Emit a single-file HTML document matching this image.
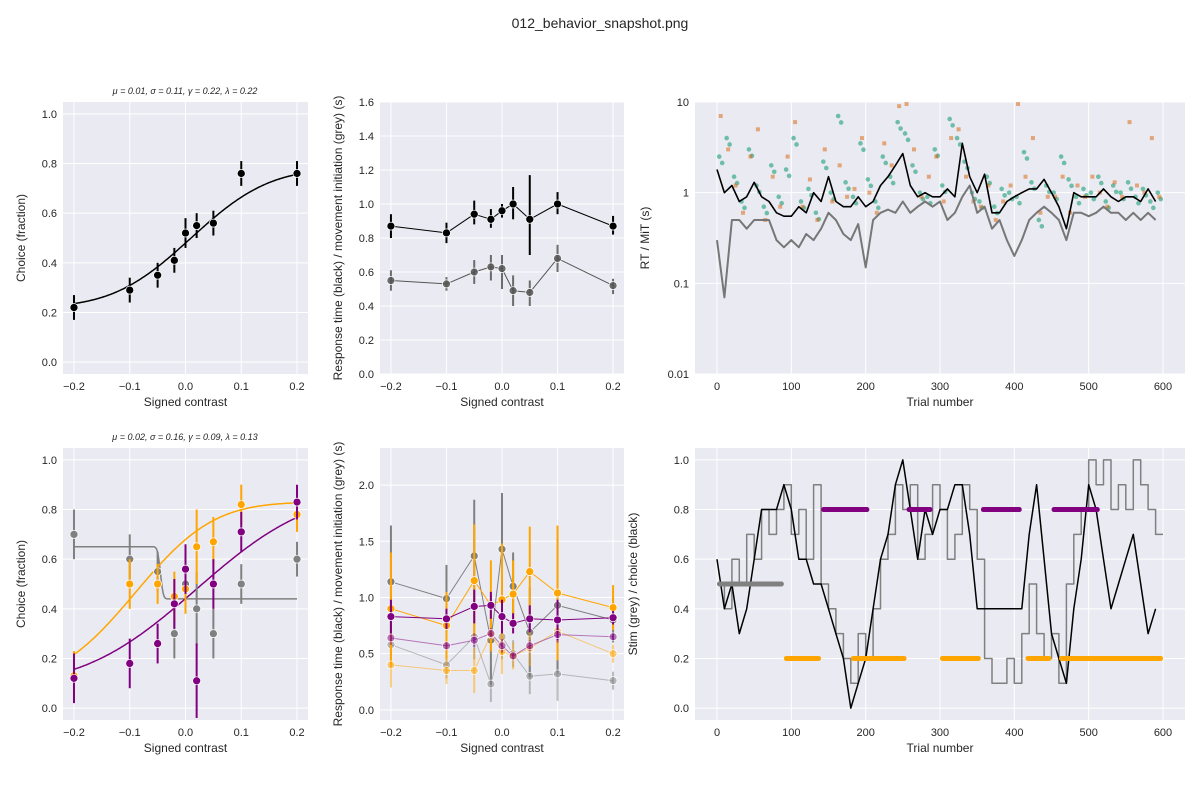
<!DOCTYPE html>
<html><head><meta charset="utf-8">
<style>
body{margin:0;background:#fff;font-family:"Liberation Sans","DejaVu Sans",sans-serif;}
svg text{font-family:"Liberation Sans","DejaVu Sans",sans-serif;fill:#262626;}
</style></head>
<body>
<svg id="fig" width="1200" height="800" xmlns="http://www.w3.org/2000/svg">
<text x="600" y="28" font-size="14" text-anchor="middle">012_behavior_snapshot.png</text>
</svg>
<script>
const contrasts=[-0.2,-0.1,-0.05,-0.02,0,0.02,0.05,0.1,0.2];
const p1Choice=[0.22,0.29,0.35,0.41,0.52,0.55,0.56,0.76,0.76];
const p1Err=[0.05,0.05,0.05,0.05,0.06,0.05,0.05,0.05,0.05];
const p2RT=[0.87,0.83,0.94,0.91,0.96,1.0,0.91,1.0,0.87];
const p2RTlo=[0.80,0.77,0.88,0.86,0.92,0.91,0.70,0.94,0.82];
const p2RThi=[0.94,0.89,1.02,0.97,1.0,1.10,1.17,1.07,0.93];
const p2MT=[0.55,0.53,0.60,0.63,0.62,0.49,0.48,0.68,0.52];
const p2MTlo=[0.49,0.49,0.53,0.55,0.50,0.40,0.40,0.60,0.47];
const p2MThi=[0.61,0.57,0.67,0.70,0.70,0.58,0.55,0.76,0.56];
const p4Grey=[0.70,0.60,0.55,0.30,0.50,0.40,0.30,0.50,0.60];
const p4Orange=[0.13,0.50,0.50,0.45,0.48,0.65,0.67,0.82,0.78];
const p4Purple=[0.12,0.18,0.26,0.42,0.56,0.11,0.50,0.71,0.83];
const p5GreyRT=[1.14,0.99,1.37,0.62,1.43,1.10,0.69,0.93,0.80];
const p5GreyMT=[0.58,0.40,0.65,0.23,0.65,0.50,0.30,0.32,0.26];
const p5OrangeRT=[0.90,0.75,1.15,0.93,0.98,1.03,1.23,1.04,0.91];
const p5OrangeMT=[0.40,0.35,0.35,0.67,0.52,0.48,0.55,0.70,0.50];
const p5PurpleRT=[0.83,0.81,0.92,0.93,0.83,0.77,0.81,0.80,0.82];
const p5PurpleMT=[0.64,0.57,0.62,0.68,0.57,0.48,0.57,0.67,0.65];
const trials10=[0,10,20,30,40,50,60,70,80,90,100,110,120,130,140,150,160,170,180,190,200,210,220,230,240,250,260,270,280,290,300,310,320,330,340,350,360,370,380,390,400,410,420,430,440,450,460,470,480,490,500,510,520,530,540,550,560,570,580,590];
const rtLine=[1.8,1.0,1.2,0.8,0.9,1.3,0.9,0.8,0.6,0.55,0.55,0.7,0.6,1.0,0.8,1.5,0.8,0.7,0.7,0.9,0.7,0.8,1.2,1.5,2.0,2.7,1.2,0.9,1.0,0.9,0.9,1.1,0.9,3.5,1.5,1.0,1.6,0.6,0.6,0.8,0.9,1.0,1.1,1.1,1.4,1.0,0.7,0.4,1.0,0.9,0.9,0.9,1.1,0.9,0.8,0.9,0.9,0.8,1.1,0.8];
const mtLine=[0.3,0.07,0.5,0.5,0.4,0.5,0.5,0.5,0.3,0.25,0.3,0.25,0.35,0.3,0.4,0.6,0.5,0.35,0.3,0.45,0.15,0.5,0.6,0.65,0.6,0.8,0.6,0.7,0.8,0.7,0.8,0.5,0.6,0.9,1.2,0.6,0.7,0.4,0.5,0.3,0.2,0.3,0.5,0.6,0.7,0.6,0.5,0.3,0.6,0.6,0.55,0.6,0.7,0.6,0.6,0.5,0.6,0.5,0.6,0.5];
const greenRT=[2.5,4.0,1.5,0.8,3.0,1.2,0.7,2.0,0.9,1.8,4.0,0.8,1.1,0.6,2.2,1.0,7.0,1.3,0.9,3.5,1.4,0.8,2.5,1.5,6.0,4.5,2.0,1.0,0.9,3.0,1.2,6.5,4.0,2.2,1.0,0.8,1.5,0.7,1.1,1.0,0.9,2.8,1.3,0.5,1.2,1.0,2.5,1.4,0.9,1.1,1.0,1.5,0.8,1.2,1.0,1.3,0.9,1.1,0.8,1.0];
const orangeRT=[7.0,3.0,1.2,0.6,2.5,5.0,0.5,1.5,0.7,2.5,6.0,0.7,1.4,0.5,3.0,0.8,2.0,0.9,1.1,4.0,1.0,0.6,3.5,2.0,9.0,9.5,3.0,0.9,1.5,2.5,0.8,4.0,5.0,1.5,0.8,0.7,1.2,0.5,0.8,1.2,9.5,1.5,4.0,0.6,0.9,0.9,1.5,0.6,1.2,0.9,1.5,1.0,0.7,1.3,0.9,6.0,1.2,1.0,4.0,0.9];
const stimGrey=[0.5,0.4,0.6,0.5,0.7,0.6,0.8,0.7,0.8,0.9,0.7,0.8,0.6,0.9,0.5,0.4,0.3,0.2,0.1,0.3,0.2,0.4,0.6,0.7,0.9,0.8,0.9,0.6,0.7,0.9,0.8,0.6,0.7,0.9,0.8,0.6,0.2,0.1,0.1,0.2,0.1,0.3,0.5,0.3,0.2,0.3,0.1,0.5,0.7,0.8,1.0,0.9,1.0,0.8,0.9,0.8,1.0,0.9,0.8,0.7];
const choiceBlack=[0.6,0.4,0.5,0.3,0.4,0.6,0.8,0.8,0.8,0.9,0.8,0.6,0.6,0.5,0.5,0.4,0.3,0.2,0.0,0.1,0.2,0.4,0.6,0.7,0.9,1.0,0.8,0.6,0.8,0.7,0.8,0.8,0.9,0.9,0.7,0.4,0.4,0.4,0.4,0.4,0.4,0.4,0.7,0.9,0.6,0.3,0.2,0.1,0.4,0.6,0.9,0.8,0.6,0.4,0.5,0.6,0.7,0.5,0.3,0.4];
const blocksStart=[0,90,140,180,255,300,355,415,450,460,515];
const blocksEnd=[90,140,205,255,290,355,410,450,515,600,600];
const blocksProb=[0.5,0.2,0.8,0.2,0.8,0.2,0.8,0.2,0.8,0.2,0.2];

const NS="http://www.w3.org/2000/svg";
const fig=document.getElementById('fig');
function el(tag,attrs,parent){const e=document.createElementNS(NS,tag);for(const k in attrs)e.setAttribute(k,attrs[k]);(parent||fig).appendChild(e);return e;}
function txt(s,attrs,parent){const e=el('text',attrs,parent);e.textContent=s;return e;}
function fmt(t){return (t<0?'\u2212':'')+Math.abs(t).toFixed(1);}

function panel(name,x0,y0,w,h,xmin,xmax,ymin,ymax,xt,yt,xlab,ylab,logy,ytl,xint,ylabOff){
  const g=el('g',{});
  
  
  el('rect',{x:x0,y:y0,width:w,height:h,fill:'#eaeaf2'},g);
  const X=v=>x0+(v-xmin)/(xmax-xmin)*w;
  const Y=logy?(v=>y0+h-(Math.log10(v)-Math.log10(ymin))/(Math.log10(ymax)-Math.log10(ymin))*h):(v=>y0+h-(v-ymin)/(ymax-ymin)*h);
  xt.forEach(t=>{el('line',{x1:X(t),x2:X(t),y1:y0,y2:y0+h,stroke:'#fff','stroke-width':1},g);
    const l=txt(xint?String(t):fmt(t),{x:X(t),y:y0+h+16,'font-size':11,'text-anchor':'middle'},g);
    });
  yt.forEach((t,i)=>{el('line',{x1:x0,x2:x0+w,y1:Y(t),y2:Y(t),stroke:'#fff','stroke-width':1},g);
    const l=txt(ytl?ytl[i]:fmt(t),{x:x0-6,y:Y(t)+4,'font-size':11,'text-anchor':'end'},g);
    });
  const xl=txt(xlab,{x:x0+w/2,y:y0+h+32,'font-size':12,'text-anchor':'middle'},g);
  
  const yl=txt(ylab,{x:0,y:0,'font-size':12,'text-anchor':'middle',transform:`translate(${x0-(ylabOff||38)},${y0+h/2}) rotate(-90)`},g);
  
  const clip='c'+name;
  const cp=el('clipPath',{id:clip},g);el('rect',{x:x0,y:y0,width:w,height:h},cp);
  const d=el('g',{'clip-path':`url(#${clip})`},g);
  return {X,Y,g:d,outer:g};
}
function poly(p,xs,ys,color,wd,op,name){const pts=xs.map((x,i)=>p.X(x).toFixed(1)+','+p.Y(ys[i]).toFixed(1)).join(' ');
  const e=el('polyline',{points:pts,fill:'none',stroke:color,'stroke-width':wd,'stroke-opacity':op||1,'stroke-linejoin':'round'},p.g);
  return e;}
function errpts(p,xs,ys,lo,hi,color,op,name){xs.forEach((x,i)=>{
  el('line',{x1:p.X(x),x2:p.X(x),y1:p.Y(lo[i]),y2:p.Y(hi[i]),stroke:color,'stroke-width':2,'stroke-opacity':op},p.g);
  const c=el('circle',{cx:p.X(x),cy:p.Y(ys[i]),r:4,fill:color,'fill-opacity':op,stroke:'#fff','stroke-width':0.7},p.g);
  });}
function erf(x){const t=1/(1+0.3275911*Math.abs(x));const y=1-(((((1.061405429*t-1.453152027)*t)+1.421413741)*t-0.284496736)*t+0.254829592)*t*Math.exp(-x*x);return x>=0?y:-y;}
function psy(x,mu,s,g,l){return g+(1-g-l)*0.5*(1+erf((x-mu)/(s*Math.SQRT2)));}
function curve(p,mu,s,g,l,color,name){const xs=[],ys=[];for(let x=-0.2;x<=0.2001;x+=0.002){xs.push(x);ys.push(psy(x,mu,s,g,l));}poly(p,xs,ys,color,1.5,1,name);}
const cx=[-0.2,-0.1,0,0.1,0.2];
const XM=0.2197;

// Panel 1
const p1=panel('psychometric-all',63,102,245,272,-XM,XM,-0.048,1.048,cx,[0,0.2,0.4,0.6,0.8,1.0],'Signed contrast','Choice (fraction)');
const t1=txt('μ = 0.01, σ = 0.11, γ = 0.22, λ = 0.22',{x:185,y:94,'font-size':9,'text-anchor':'middle','font-style':'italic'});

curve(p1,0.01,0.11,0.22,0.22,'#000','fit-curve');
errpts(p1,contrasts,p1Choice,p1Choice.map((v,i)=>v-p1Err[i]),p1Choice.map((v,i)=>v+p1Err[i]),'#000',1,'choice');

// Panel 2
const p2=panel('chronometric-all',380,102,244,272,-XM,XM,0,1.6,cx,[0,0.2,0.4,0.6,0.8,1.0,1.2,1.4,1.6],'Signed contrast','Response time (black) / movement initiation (grey) (s)');
poly(p2,contrasts,p2RT,'#000',1,1,'rt-line');poly(p2,contrasts,p2MT,'#555',1,1,'mt-line');
errpts(p2,contrasts,p2RT,p2RTlo,p2RThi,'#000',1,'rt');errpts(p2,contrasts,p2MT,p2MTlo,p2MThi,'#555',0.85,'mt');

// Panel 3
const p3=panel('rt-over-trials',695,102,490,272,-29.6,629.6,0.01,10,[0,100,200,300,400,500,600],[0.01,0.1,1,10],'Trial number','RT / MiT (s)',true,['0.01','0.1','1','10'],true,46);
greenRT.forEach((v,i)=>{const c=el('circle',{cx:p3.X(trials10[i]+3),cy:p3.Y(v),r:2.3,fill:'#1b9e77','fill-opacity':0.6},p3.g);
  const c2=el('circle',{cx:p3.X(trials10[i]+7),cy:p3.Y(v*0.85),r:2.3,fill:'#1b9e77','fill-opacity':0.6},p3.g);});
orangeRT.forEach((v,i)=>{const c=el('rect',{x:p3.X(trials10[i]+5)-2,y:p3.Y(v)-2,width:4,height:4,fill:'#d95f02','fill-opacity':0.5},p3.g);});
poly(p3,trials10,mtLine,'#777',2,1,'mt-rolling-line');
poly(p3,trials10,rtLine,'#000',1.6,1,'rt-rolling-line');

// Panel 4
const p4=panel('psychometric-blocks',63,448,245,272,-XM,XM,-0.048,1.048,cx,[0,0.2,0.4,0.6,0.8,1.0],'Signed contrast','Choice (fraction)');
const t4=txt('μ = 0.02, σ = 0.16, γ = 0.09, λ = 0.13',{x:185,y:440,'font-size':9,'text-anchor':'middle','font-style':'italic'});

curve(p4,-0.045,0.004,0.65,0.56,'grey','fit-curve-grey');
curve(p4,-0.09,0.11,0.1,0.17,'orange','fit-curve-orange');
curve(p4,0.02,0.16,0.09,0.13,'purple','fit-curve-purple');
const e4=[0.1,0.1,0.08,0.1,0.1,0.15,0.1,0.08,0.07];
[[p4Grey,'grey'],[p4Orange,'orange'],[p4Purple,'purple']].forEach(([a,c])=>errpts(p4,contrasts,a,a.map((v,i)=>v-e4[i]),a.map((v,i)=>v+e4[i]),c,1,'choice-'+c));

// Panel 5
const p5=panel('chronometric-blocks',380,448,244,272,-XM,XM,-0.09,2.33,cx,[0,0.5,1.0,1.5,2.0],'Signed contrast','Response time (black) / movement initiation (grey) (s)');
const e5=[0.5,0.3,0.5,0.4,0.5,0.3,0.4,0.6,0.2];
[[p5GreyRT,'grey',1],[p5GreyMT,'grey',0.5],[p5OrangeRT,'orange',1],[p5OrangeMT,'orange',0.5],[p5PurpleRT,'purple',1],[p5PurpleMT,'purple',0.5]].forEach(([a,c,o],k)=>{
  poly(p5,contrasts,a,c,1,o,'rt-line-'+c);
  const s=o<1?0.4:1;
  errpts(p5,contrasts,a,a.map((v,i)=>v-e5[i]*s*(c=='purple'?0.3:1)),a.map((v,i)=>v+e5[i]*s*(c=='purple'?0.3:1)),c,o,'rt-'+c);});

// Panel 6
const p6=panel('stim-choice-trials',695,448,490,272,-29.6,629.6,-0.048,1.048,[0,100,200,300,400,500,600],[0,0.2,0.4,0.6,0.8,1.0],'Trial number','Stim (grey) / choice (black)',false,null,true,58);
function stepPts(ys){const xs=[],vs=[];ys.forEach((v,i)=>{xs.push(trials10[i]);vs.push(v);xs.push(trials10[i]+10);vs.push(v);});return [xs,vs];}
const [sx,sy]=stepPts(stimGrey);poly(p6,sx,sy,'grey',1.5,1,'stim-line');
poly(p6,trials10,choiceBlack,'#000',1.5,1,'choice-line');
blocksStart.forEach((s,i)=>{const c=blocksProb[i]==0.5?'grey':blocksProb[i]==0.2?'orange':'purple';
  const r=el('rect',{x:p6.X(s),y:p6.Y(blocksProb[i])-2.5,width:p6.X(blocksEnd[i])-p6.X(s),height:5,rx:2.5,fill:c},p6.g);
  });
</script>
</body></html>
